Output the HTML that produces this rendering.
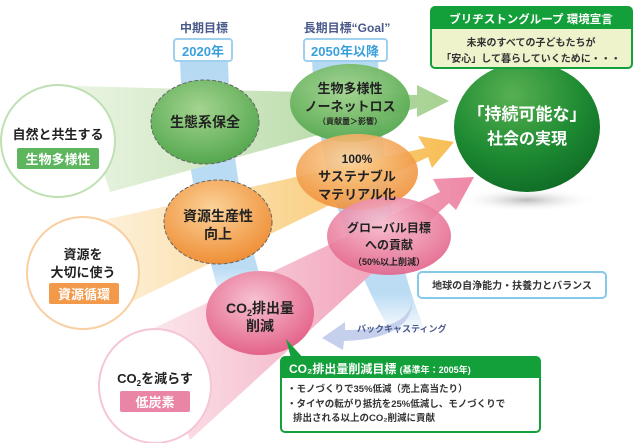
<!DOCTYPE html>
<html><head><meta charset="utf-8"><style>
body{margin:0;background:#fff}
svg{display:block}
text{font-family:"Liberation Sans","Noto Sans CJK JP",sans-serif;font-weight:bold}
</style></head><body>
<svg width="636" height="443" viewBox="0 0 636 443" xmlns="http://www.w3.org/2000/svg">
<defs>
<linearGradient id="gG" x1="0" x2="1"><stop offset="0" stop-color="#eaf4e2"/><stop offset="1" stop-color="#a6d192"/></linearGradient>
<linearGradient id="gO" x1="0" x2="1"><stop offset="0" stop-color="#fdf2de"/><stop offset="1" stop-color="#f8be55"/></linearGradient>
<linearGradient id="gP" x1="0" x2="1"><stop offset="0" stop-color="#fbe6ec"/><stop offset="1" stop-color="#ee88a6"/></linearGradient>
<linearGradient id="gB" x1="0" y1="0" x2="0" y2="1"><stop offset="0" stop-color="#b7daf3"/><stop offset="0.85" stop-color="#bcdcf4"/><stop offset="1" stop-color="#fff"/></linearGradient>
<radialGradient id="cG" cx="0.45" cy="0.35" r="0.7"><stop offset="0" stop-color="#a4d490"/><stop offset="1" stop-color="#4fa54a"/></radialGradient>
<radialGradient id="cO" cx="0.45" cy="0.35" r="0.7"><stop offset="0" stop-color="#fbd39a"/><stop offset="1" stop-color="#ee8a30"/></radialGradient>
<radialGradient id="cP" cx="0.45" cy="0.35" r="0.7"><stop offset="0" stop-color="#f7c2d2"/><stop offset="1" stop-color="#e25c84"/></radialGradient>
<radialGradient id="sph" cx="0.4" cy="0.25" r="0.8"><stop offset="0" stop-color="#57b050"/><stop offset="0.6" stop-color="#1d8a32"/><stop offset="1" stop-color="#0f6a25"/></radialGradient>
<radialGradient id="sh" cx="0.5" cy="0.5" r="0.5"><stop offset="0" stop-color="#bbb"/><stop offset="1" stop-color="#fff" stop-opacity="0"/></radialGradient>
</defs>
<!-- blue bands -->
<path d="M180 60 L228 60 C230 140 240 220 268 300 L222 305 C198 220 182 140 180 60Z" fill="url(#gB)"/>
<path d="M312 60 L378 60 C382 170 395 260 425 330 L392 335 C350 260 318 170 312 60Z" fill="url(#gB)"/>
<!-- colored arrows -->
<polygon points="75,86 417,95 417,85 449,101 417,117 417,108 110,192" fill="url(#gG)"/>
<polygon points="95,222 425,148 418,136 454,142 432,168 428,157 125,305" fill="url(#gO)"/>
<polygon points="150,330 440,192 433,179 474,177 456,210 449,203 190,440" fill="url(#gP)"/>
<!-- left ellipses -->
<ellipse cx="58" cy="141" rx="57" ry="56" fill="#fff" stroke="#bfe0b3" stroke-width="2"/>
<text x="58" y="139" font-size="13" text-anchor="middle" fill="#222">自然と共生する</text>
<rect x="17" y="148" width="82" height="21" rx="2" fill="#5db55e"/>
<text x="58" y="164" font-size="13" text-anchor="middle" fill="#fff">生物多様性</text>
<ellipse cx="83" cy="273" rx="56" ry="56" fill="#fff" stroke="#f9cfa2" stroke-width="2"/>
<text x="83" y="259" font-size="13" text-anchor="middle" fill="#222">資源を</text>
<text x="83" y="277" font-size="13" text-anchor="middle" fill="#222">大切に使う</text>
<rect x="49" y="283" width="70" height="21" rx="2" fill="#f2994a"/>
<text x="84" y="299" font-size="13" text-anchor="middle" fill="#fff">資源循環</text>
<ellipse cx="155" cy="386" rx="56" ry="57" fill="#fff" stroke="#f5c6d4" stroke-width="2"/>
<text x="155" y="383" font-size="13" text-anchor="middle" fill="#222">CO<tspan font-size="8" dy="3">2</tspan><tspan dy="-3">を減らす</tspan></text>
<rect x="120" y="391" width="70" height="21" rx="2" fill="#eb85a5"/>
<text x="155" y="407" font-size="13" text-anchor="middle" fill="#fff">低炭素</text>
<!-- top labels -->
<text x="204" y="32" font-size="12" text-anchor="middle" fill="#4a5a8a">中期目標</text>
<rect x="174" y="39" width="58" height="22" rx="3" fill="#fff" stroke="#9fd0ee" stroke-width="2"/>
<text x="203" y="56" font-size="13" text-anchor="middle" fill="#3aa0dc" font-weight="normal">2020年</text>
<text x="347" y="32" font-size="12" text-anchor="middle" fill="#4a5a8a">長期目標“Goal”</text>
<rect x="304" y="39" width="83" height="22" rx="3" fill="#fff" stroke="#9fd0ee" stroke-width="2"/>
<text x="345" y="56" font-size="13" text-anchor="middle" fill="#3aa0dc" font-weight="normal">2050年以降</text>
<!-- middle circles -->
<ellipse cx="205" cy="122" rx="54" ry="42" fill="url(#cG)" stroke="#666" stroke-width="1" stroke-dasharray="4,2"/>
<text x="205" y="127" font-size="14" text-anchor="middle" fill="#222">生態系保全</text>
<ellipse cx="218" cy="222" rx="54" ry="42" fill="url(#cO)" stroke="#666" stroke-width="1" stroke-dasharray="4,2"/>
<text x="218" y="221" font-size="14" text-anchor="middle" fill="#222">資源生産性</text>
<text x="218" y="239" font-size="14" text-anchor="middle" fill="#222">向上</text>
<ellipse cx="260" cy="313" rx="54" ry="42" fill="url(#cP)"/>
<text x="260" y="313" font-size="14" text-anchor="middle" fill="#222">CO<tspan font-size="9" dy="3">2</tspan><tspan dy="-3">排出量</tspan></text>
<text x="260" y="331" font-size="14" text-anchor="middle" fill="#222">削減</text>
<!-- right circles -->
<ellipse cx="350" cy="103" rx="60" ry="39" fill="url(#cG)" opacity="0.95"/>
<ellipse cx="357" cy="172" rx="61" ry="38" fill="url(#cO)" opacity="0.9"/>
<ellipse cx="389" cy="236" rx="62" ry="39" fill="url(#cP)" opacity="0.9"/>
<text x="350" y="93" font-size="13" text-anchor="middle" fill="#222">生物多様性</text>
<text x="350" y="111" font-size="13" text-anchor="middle" fill="#222">ノーネットロス</text>
<text x="350" y="124" font-size="8" text-anchor="middle" fill="#222">（貢献量＞影響）</text>
<text x="357" y="163" font-size="12" text-anchor="middle" fill="#222">100%</text>
<text x="357" y="181" font-size="13" text-anchor="middle" fill="#222">サステナブル</text>
<text x="357" y="199" font-size="13" text-anchor="middle" fill="#222">マテリアル化</text>
<text x="389" y="232" font-size="12" text-anchor="middle" fill="#222">グローバル目標</text>
<text x="389" y="249" font-size="12" text-anchor="middle" fill="#222">への貢献</text>
<text x="389" y="265" font-size="9" text-anchor="middle" fill="#222">（50%以上削減）</text>
<!-- sphere -->
<ellipse cx="527" cy="200" rx="70" ry="12" fill="url(#sh)"/>
<ellipse cx="527" cy="127" rx="73" ry="65" fill="url(#sph)"/>
<text x="527" y="120" font-size="17" text-anchor="middle" fill="#fff">「持続可能な」</text>
<text x="527" y="144" font-size="16" text-anchor="middle" fill="#fff">社会の実現</text>
<!-- bridgestone box -->
<rect x="431" y="7" width="201" height="61" rx="4" fill="#eef3cc" stroke="#13a03a" stroke-width="2"/>
<path d="M431 29 V11 a4 4 0 0 1 4 -4 H628 a4 4 0 0 1 4 4 V29 Z" fill="#13a03a"/>
<text x="531" y="23" font-size="11.5" text-anchor="middle" fill="#fff">ブリヂストングループ 環境宣言</text>
<text x="531" y="46" font-size="10" text-anchor="middle" fill="#333" font-weight="normal">未来のすべての子どもたちが</text>
<text x="531" y="62" font-size="10" text-anchor="middle" fill="#333" font-weight="normal">「安心」して暮らしていくために・・・</text>
<!-- balance box -->
<rect x="418" y="272" width="188" height="26" rx="4" fill="#fff" stroke="#86c9ec" stroke-width="2"/>
<text x="512" y="289" font-size="10" text-anchor="middle" fill="#333" font-weight="normal">地球の自浄能力・扶養力とバランス</text>
<!-- backcasting arrow -->
<path d="M412 300 C410 320 390 330 345 330 L345 322 L322 338 L343 350 L344 341 C392 340 414 322 412 300Z" fill="#c5d0ec"/>
<text x="357" y="332" font-size="9" fill="#4a5a8a">バックキャスティング</text>
<!-- CO2 target box -->
<polygon points="286,339 305,360 292,362" fill="#13a03a"/>
<rect x="281" y="357" width="259" height="75" rx="4" fill="#fff" stroke="#13a03a" stroke-width="2"/>
<path d="M281 378 V361 a4 4 0 0 1 4 -4 H536 a4 4 0 0 1 4 4 V378 Z" fill="#13a03a"/>
<text x="289" y="373" font-size="12" fill="#fff" font-weight="normal">CO₂排出量削減目標 <tspan font-size="9" font-weight="bold">(基準年：2005年)</tspan></text>
<text x="287" y="392" font-size="9.5" fill="#333" font-weight="normal">・モノづくりで35%低減（売上高当たり）</text>
<text x="287" y="407" font-size="9.5" fill="#333" font-weight="normal">・タイヤの転がり抵抗を25%低減し、モノづくりで</text>
<text x="293" y="421" font-size="9.5" fill="#333" font-weight="normal">排出される以上のCO₂削減に貢献</text>
</svg>
</body></html>
